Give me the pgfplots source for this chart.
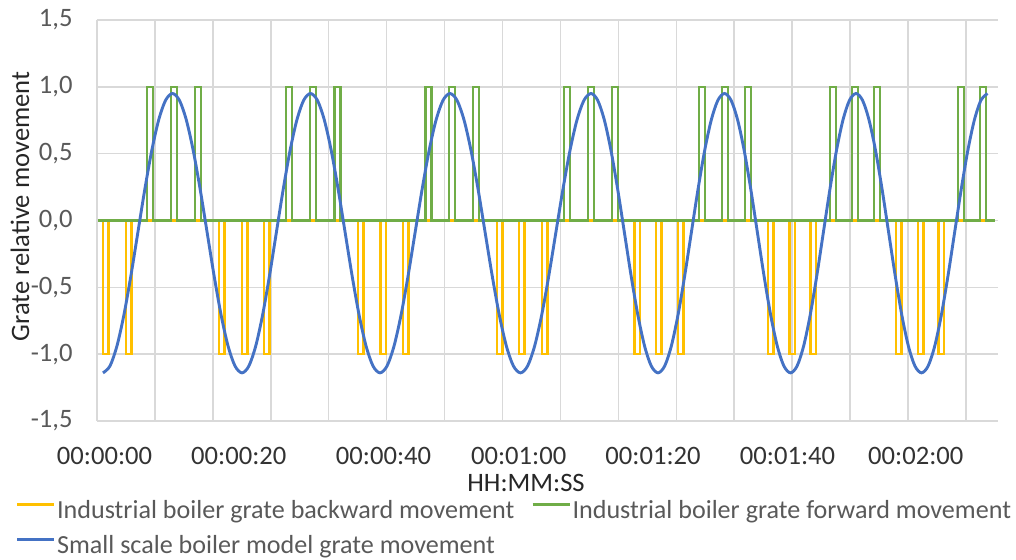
\documentclass[border=0pt]{standalone}
\usepackage{fontspec}
\setmainfont{Carlito}
\setsansfont{Carlito}
\usepackage{pgfplots}
\pgfplotsset{compat=1.18}

\definecolor{xlyellow}{HTML}{FFC000}
\definecolor{xlgreen}{HTML}{70AD47}
\definecolor{xlblue}{HTML}{4472C4}
\definecolor{xlgrid}{HTML}{D9D9D9}
\definecolor{xltext}{HTML}{595959}
\newcommand\xlfont{\fontsize{13.3pt}{16pt}\selectfont}
\newcommand\legfont{\fontsize{13.05pt}{16pt}\selectfont}

\begin{document}
\begin{tikzpicture}
\useasboundingbox (-48.5pt,-69.5pt) rectangle (459.5pt,210.5pt);
\begin{axis}[
  scale only axis, width=450.5pt, height=200.5pt,
  xmin=97, xmax=998, ymin=-1.5, ymax=1.5,
  axis line style={draw=none},
  major tick length=0pt, minor tick length=0pt,
  xtick={104.5,238.8,383.5,518.7,653,787.5,915.8},
  xticklabels={00:00:00,00:00:20,00:00:40,00:01:00,00:01:20,00:01:40,00:02:00},
  minor xtick={97,154.93,212.86,270.79,328.72,386.65,444.58,502.51,560.44,618.37,676.3,734.23,792.16,850.09,908.02,965.95},
  xmajorgrids=false, xminorgrids=true,
  ytick={-1.5,-1,-0.5,0,0.5,1,1.5},
  yticklabels={{-1,5},{-1,0},{-0,5},{0,0},{0,5},{1,0},{1,5}},
  ymajorgrids=true,
  grid style={xlgrid, line width=0.75pt},
  minor grid style={xlgrid, line width=0.75pt},
  xticklabel style={font=\xlfont, text=black!80, anchor=base, inner sep=0pt, yshift=-21.65pt},
  yticklabel style={font=\xlfont, text=xltext, anchor=east, inner sep=0pt, xshift=-12pt},
  xlabel={HH:MM:SS},
  xlabel style={at={(axis description cs:0.4762,-0.1763)}, anchor=base, inner sep=0pt, font=\xlfont, text=black!85},
  ylabel={Grate relative movement},
  ylabel style={at={(axis description cs:-0.0855,0.535)}, anchor=center, inner sep=0pt, font=\xlfont, text=black!85},
  legend columns=2,
  legend cell align=left,
  legend image code/.code={\draw[#1, line width=1.1pt] (0pt,3.7pt) -- (18.65pt,3.7pt);},
  legend style={at={(axis description cs:-0.0899,-0.197)}, anchor=north west,
    draw=none, fill=none, inner sep=0pt, outer sep=0pt, font=\legfont, text=xltext,
    nodes={inner sep=0pt, text height=9.5pt, text depth=2.5pt},
    /tikz/column sep=0.8pt, row sep=5.5pt,
    /tikz/every even column/.append style={column sep=8.6pt}},
]
% backward movement
\addplot[xlyellow, line width=1.25pt] coordinates {
(98,0)
(102.8,0) (102.8,-1) (108.3,-1) (108.3,0)
(126.1,0) (126.1,-1) (131.6,-1) (131.6,0)
(218.8,0) (218.8,-1) (224.3,-1) (224.3,0)
(241.8,0) (241.8,-1) (247.3,-1) (247.3,0)
(263.8,0) (263.8,-1) (269.3,-1) (269.3,0)
(357.8,0) (357.8,-1) (363.3,-1) (363.3,0)
(380.4,0) (380.4,-1) (385.9,-1) (385.9,0)
(403.1,0) (403.1,-1) (408.6,-1) (408.6,0)
(496.8,0) (496.8,-1) (502.3,-1) (502.3,0)
(518.8,0) (518.8,-1) (524.3,-1) (524.3,0)
(541.8,0) (541.8,-1) (547.3,-1) (547.3,0)
(634.4,0) (634.4,-1) (639.9,-1) (639.9,0)
(656.1,0) (656.1,-1) (661.6,-1) (661.6,0)
(677.8,0) (677.8,-1) (683.3,-1) (683.3,0)
(767.8,0) (767.8,-1) (773.3,-1) (773.3,0)
(789.4,0) (789.4,-1) (794.9,-1) (794.9,0)
(810.4,0) (810.4,-1) (815.9,-1) (815.9,0)
(896.1,0) (896.1,-1) (901.6,-1) (901.6,0)
(917.8,0) (917.8,-1) (923.3,-1) (923.3,0)
(938.4,0) (938.4,-1) (943.9,-1) (943.9,0)
(995,0)};
\addlegendentry{Industrial boiler grate backward movement}
% forward movement
\addplot[xlgreen, line width=1.25pt] coordinates {
(98,0)
(147.1,0) (147.1,1) (153.2,1) (153.2,0)
(171.1,0) (171.1,1) (177.2,1) (177.2,0)
(195.1,0) (195.1,1) (201.2,1) (201.2,0)
(285.8,0) (285.8,1) (291.9,1) (291.9,0)
(309.8,0) (309.8,1) (315.9,1) (315.9,0)
(334.4,0) (334.4,1) (340.5,1) (340.5,0)
(425.4,0) (425.4,1) (431.5,1) (431.5,0)
(448.8,0) (448.8,1) (454.9,1) (454.9,0)
(472.8,0) (472.8,1) (478.9,1) (478.9,0)
(563.8,0) (563.8,1) (569.9,1) (569.9,0)
(588.1,0) (588.1,1) (594.2,1) (594.2,0)
(611.8,0) (611.8,1) (617.9,1) (617.9,0)
(698.8,0) (698.8,1) (704.9,1) (704.9,0)
(721.8,0) (721.8,1) (727.9,1) (727.9,0)
(745.1,0) (745.1,1) (751.2,1) (751.2,0)
(830.1,0) (830.1,1) (836.2,1) (836.2,0)
(852.1,0) (852.1,1) (858.2,1) (858.2,0)
(874.1,0) (874.1,1) (880.2,1) (880.2,0)
(957.8,0) (957.8,1) (963.9,1) (963.9,0)
(980.1,0) (980.1,1) (986.2,1) (986.2,0)
(995,0)};
\addlegendentry{Industrial boiler grate forward movement}
% small scale model
\addplot[xlblue, line width=1.45pt, smooth] coordinates {
(103,-1.140) (109.95,-1.089) (116.9,-0.940) (123.85,-0.709) (130.8,-0.418) (137.75,-0.095) (144.7,0.228) (151.65,0.519) (158.6,0.750) (165.55,0.899) (172.5,0.950)
(179.45,0.899) (186.4,0.750) (193.35,0.519) (200.3,0.228) (207.25,-0.095) (214.2,-0.418) (221.15,-0.709) (228.1,-0.940) (235.05,-1.089) (242,-1.140)
(248.85,-1.089) (255.7,-0.940) (262.55,-0.709) (269.4,-0.418) (276.25,-0.095) (283.1,0.228) (289.95,0.519) (296.8,0.750) (303.65,0.899) (310.5,0.950)
(317.45,0.899) (324.4,0.750) (331.35,0.519) (338.3,0.228) (345.25,-0.095) (352.2,-0.418) (359.15,-0.709) (366.1,-0.940) (373.05,-1.089) (380,-1.140)
(387,-1.089) (394,-0.940) (401,-0.709) (408,-0.418) (415,-0.095) (422,0.228) (429,0.519) (436,0.750) (443,0.899) (450,0.950)
(457.05,0.899) (464.1,0.750) (471.15,0.519) (478.2,0.228) (485.25,-0.095) (492.3,-0.418) (499.35,-0.709) (506.4,-0.940) (513.45,-1.089) (520.5,-1.140)
(527.55,-1.089) (534.6,-0.940) (541.65,-0.709) (548.7,-0.418) (555.75,-0.095) (562.8,0.228) (569.85,0.519) (576.9,0.750) (583.95,0.899) (591,0.950)
(597.7,0.899) (604.4,0.750) (611.1,0.519) (617.8,0.228) (624.5,-0.095) (631.2,-0.418) (637.9,-0.709) (644.6,-0.940) (651.3,-1.089) (658,-1.140)
(664.65,-1.089) (671.3,-0.940) (677.95,-0.709) (684.6,-0.418) (691.25,-0.095) (697.9,0.228) (704.55,0.519) (711.2,0.750) (717.85,0.899) (724.5,0.950)
(731.1,0.899) (737.7,0.750) (744.3,0.519) (750.9,0.228) (757.5,-0.095) (764.1,-0.418) (770.7,-0.709) (777.3,-0.940) (783.9,-1.089) (790.5,-1.140)
(797.05,-1.089) (803.6,-0.940) (810.15,-0.709) (816.7,-0.418) (823.25,-0.095) (829.8,0.228) (836.35,0.519) (842.9,0.750) (849.45,0.899) (856,0.950)
(862.55,0.899) (869.1,0.750) (875.65,0.519) (882.2,0.228) (888.75,-0.095) (895.3,-0.418) (901.85,-0.709) (908.4,-0.940) (914.95,-1.089) (921.5,-1.140)
(928.1,-1.089) (934.7,-0.940) (941.3,-0.709) (947.9,-0.418) (954.5,-0.095) (961.1,0.228) (967.7,0.519) (974.3,0.750) (980.9,0.899) (987.5,0.950)};
\addlegendentry{Small scale boiler model grate movement}
\end{axis}
\end{tikzpicture}
\end{document}
